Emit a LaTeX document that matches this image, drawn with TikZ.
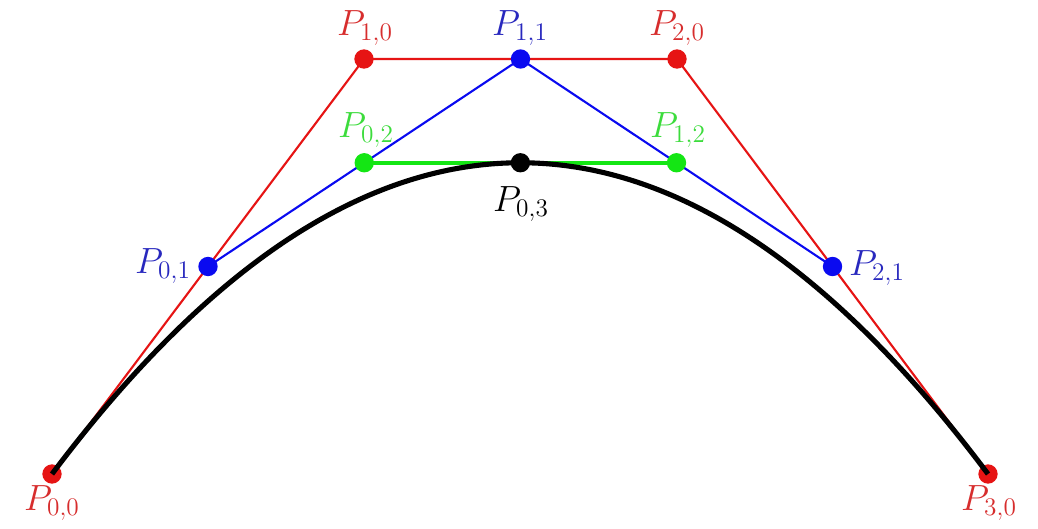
\documentclass[tikz,border=0pt]{standalone}
\usepackage{xcolor}
\definecolor{cred}{RGB}{230,20,20}
\definecolor{lred}{RGB}{215,45,45}
\definecolor{cblue}{RGB}{10,10,240}
\definecolor{lblue}{RGB}{40,40,190}
\definecolor{cgreen}{RGB}{20,230,20}
\definecolor{lgreen}{RGB}{60,220,60}
\begin{document}
\begin{tikzpicture}[x=0.02cm,y=-0.02cm,
  lbl/.style={inner sep=0pt,font=\fontsize{22}{24}\selectfont},
  seg/.style={line width=1.2pt},
  dotr/.style={fill=cred},
  dotb/.style={fill=cblue},
  dotg/.style={fill=cgreen},
]
\useasboundingbox (0,0) rectangle (1038,528);
\fill[white] (0,0) rectangle (1038,528);
% points
\coordinate (P00) at (52,474);
\coordinate (P10) at (364,59);
\coordinate (P20) at (677,59);
\coordinate (P30) at (988,474);
\coordinate (P01) at (208,266.5);
\coordinate (P11) at (520.5,59);
\coordinate (P21) at (832.5,266.5);
\coordinate (P02) at (364.25,162.75);
\coordinate (P12) at (676.5,162.75);
\coordinate (P03) at (520.4,162.75);
% red polygon
\draw[cred,seg] (P00) -- (P10) -- (P20) -- (P30);
\fill[dotr] (P00) circle[radius=5.5pt];
\fill[dotr] (P10) circle[radius=5.5pt];
\fill[dotr] (P20) circle[radius=5.5pt];
\fill[dotr] (P30) circle[radius=5.5pt];
% blue
\draw[cblue,seg] (P01) -- (P11) -- (P21);
\fill[dotb] (P01) circle[radius=5.5pt];
\fill[dotb] (P11) circle[radius=5.5pt];
\fill[dotb] (P21) circle[radius=5.5pt];
% green
\draw[cgreen,line width=2pt] (P02) -- (P12);
\fill[dotg] (P02) circle[radius=5.5pt];
\fill[dotg] (P12) circle[radius=5.5pt];
% curve
\draw[black,line width=2.9pt] (P00) .. controls (P10) and (P20) .. (P30);
\fill[black] (P03) circle[radius=5.5pt];
% labels
\node[lbl,text=lred] (L10) at (365,28) {$P_{1,0}$};
\node[lbl,text=lblue] (L11) at (520,28) {$P_{1,1}$};
\node[lbl,text=lred] (L20) at (677,28) {$P_{2,0}$};
\node[lbl,text=lgreen] (L02) at (366,130) {$P_{0,2}$};
\node[lbl,text=lgreen] (L12) at (678,130) {$P_{1,2}$};
\node[lbl,text=black] (L03) at (521,204) {$P_{0,3}$};
\node[lbl,text=lblue] (L01) at (163,266) {$P_{0,1}$};
\node[lbl,text=lblue] (L21) at (877,268) {$P_{2,1}$};
\node[lbl,text=lred] (L00) at (52,503) {$P_{0,0}$};
\node[lbl,text=lred] (L30) at (989,503) {$P_{3,0}$};
\end{tikzpicture}
\end{document}
